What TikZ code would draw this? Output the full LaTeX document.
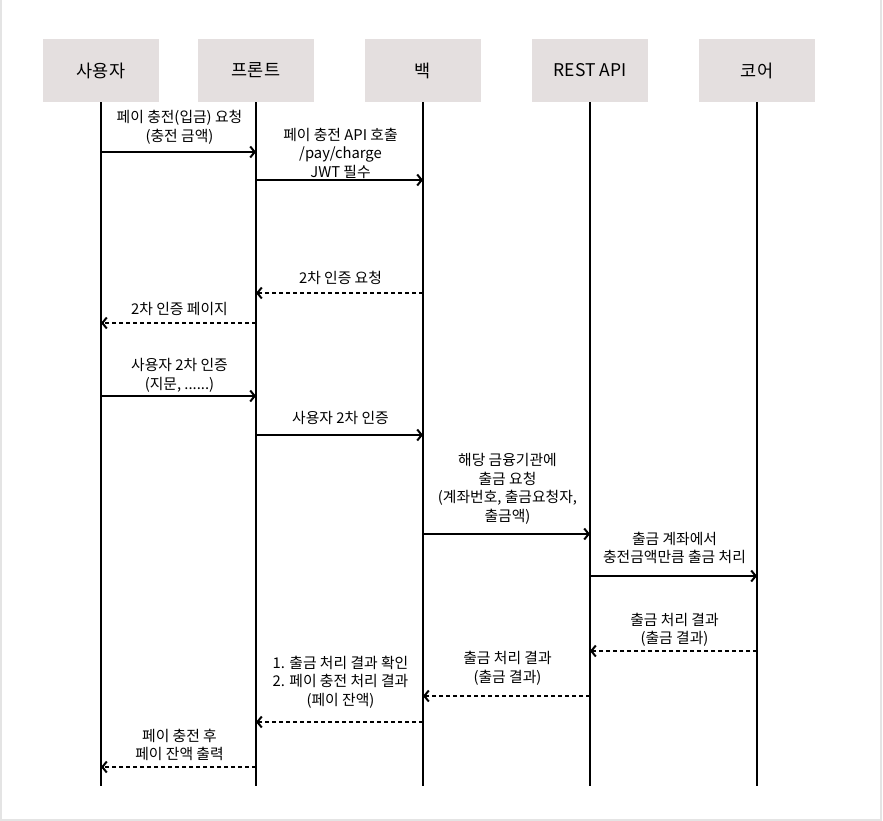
\documentclass[tikz,border=0pt]{standalone}
\usepackage{fontspec}
\setmainfont{Noto Sans CJK KR}
\usetikzlibrary{fit,arrows.meta}

\definecolor{boxgray}{HTML}{E4DFDF}
\definecolor{framegray}{HTML}{E4E4E4}

\tikzset{
    actor/.style={fill=boxgray, inner sep=0pt},
    life/.style={line width=2pt},
    msg/.style={line width=2pt, -{Straight Barb[length=4.5pt,width=11pt]}},
    reply/.style={msg, dash pattern=on 4pt off 3pt},
    note/.style={align=center, inner sep=0pt, font=\fontsize{14.8}{18.5}\selectfont},
}

\begin{document}
\begin{tikzpicture}[x=1pt, y=-1pt, every label/.style={font=\fontsize{17.5}{21}\selectfont}]
    \useasboundingbox (0,0) rectangle (883,821);
    \draw[framegray, line width=1.5pt] (1,0) -- (1,820) -- (881,820) -- (881,0);

    \node[actor, fit={(43,39) (159,102)}, label=center:{사용자}] (user) {};
    \node[actor, fit={(198,39) (314,102)}, label=center:{프론트}] (front) {};
    \node[actor, fit={(365,39) (481,102)}, label=center:{백}] (back) {};
    \node[actor, fit={(532,39) (648,102)}, label=center:{REST API}] (api) {};
    \node[actor, fit={(699,39) (815,102)}, label=center:{코어}] (core) {};

    \draw[life] (user) -- (user |- 0,786);
    \draw[life] (front) -- (front |- 0,786);
    \draw[life] (back) -- (back |- 0,786);
    \draw[life] (api) -- (api |- 0,786);
    \draw[life] (core) -- (core |- 0,786);

    \node[note] (n1) at (179.5,127.5) {페이 충전(입금) 요청\\(충전 금액)};
    \node[note] (n2) at (340.5,153) {페이 충전 API 호출\\/pay/charge\\JWT 필수};
    \node[note] (n3) at (340.5,278) {2차 인증 요청};
    \node[note] (n4) at (179.5,309) {2차 인증 페이지};
    \node[note] (n5) at (179.5,375.5) {사용자 2차 인증\\(지문, ......)};
    \node[note] (n6) at (340.5,418) {사용자 2차 인증};
    \node[note] (n7) at (507.5,489) {해당 금융기관에\\출금 요청\\(계좌번호, 출금요청자,\\출금액)};
    \node[note] (n8) at (674.5,548) {출금 계좌에서\\충전금액만큼 출금 처리};
    \node[note] (n9) at (674.5,630) {출금 처리 결과\\(출금 결과)};
    \node[note] (n10) at (507.5,668.5) {출금 처리 결과\\(출금 결과)};
    \node[note] (n11) at (340.5,682) {1. 출금 처리 결과 확인\\2. 페이 충전 처리 결과\\(페이 잔액)};
    \node[note] (n12) at (179.5,745) {페이 충전 후\\페이 잔액 출력};

    \draw[msg] (user |- 0,152) -- (front |- 0,152);
    \draw[msg] (front |- 0,180) -- (back |- 0,180);
    \draw[reply] (back |- 0,293) -- (front |- 0,293);
    \draw[reply] (front |- 0,323) -- (user |- 0,323);
    \draw[msg] (user |- 0,396) -- (front |- 0,396);
    \draw[msg] (front |- 0,435) -- (back |- 0,435);
    \draw[msg] (back |- 0,534) -- (api |- 0,534);
    \draw[msg] (api |- 0,576) -- (core |- 0,576);
    \draw[reply] (core |- 0,651) -- (api |- 0,651);
    \draw[reply] (api |- 0,696) -- (back |- 0,696);
    \draw[reply] (back |- 0,722) -- (front |- 0,722);
    \draw[reply] (front |- 0,767) -- (user |- 0,767);
\end{tikzpicture}
\end{document}
